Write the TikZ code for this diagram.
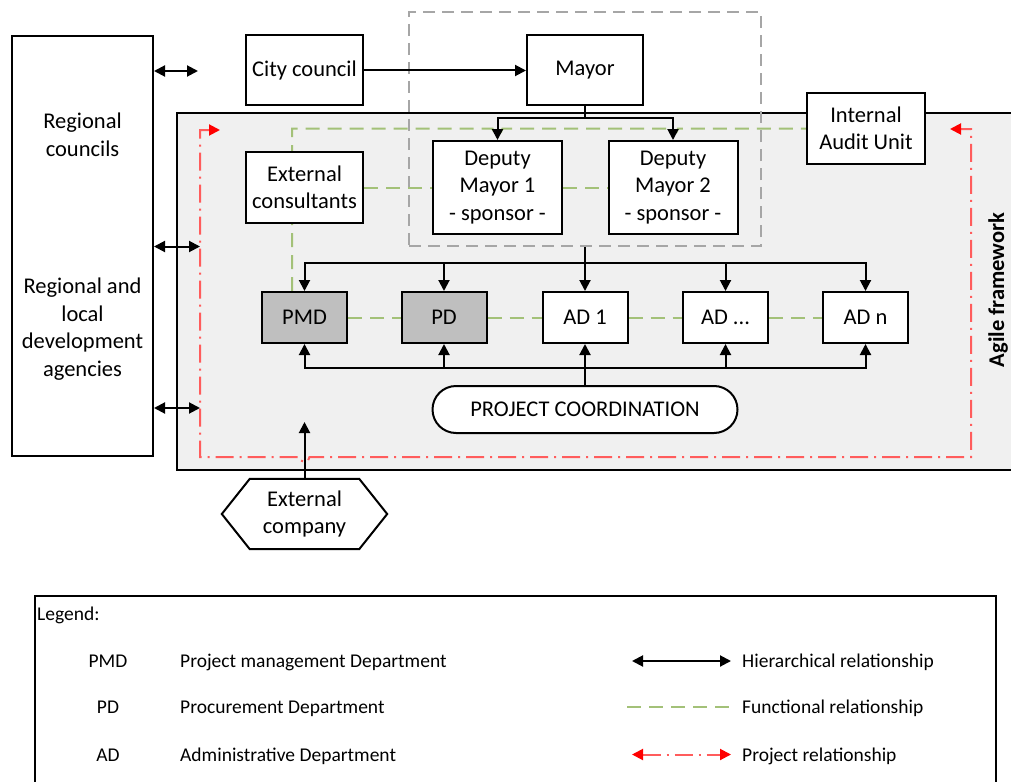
\documentclass[tikz,border=0pt]{standalone}
\usepackage{fontspec}
\setmainfont{Carlito}
\usetikzlibrary{arrows.meta}
\definecolor{framegray}{HTML}{F0F0F0}
\definecolor{deptgray}{HTML}{BFBFBF}
\definecolor{funcgreen}{HTML}{A3C178}
\definecolor{grpgray}{HTML}{A6A6A6}
\definecolor{projred}{HTML}{FF5C5C}
\pgfdeclarelayer{bg}
\pgfsetlayers{bg,main}
\tikzset{
  mainfont/.style={font=\fontsize{22.5}{27.5}\selectfont},
  legfont/.style={font=\fontsize{19.5}{23}\selectfont},
  box/.style={draw, line width=2pt, fill=white},
  dept/.style={box, minimum width=85pt, minimum height=51pt},
  hier/.style={line width=2pt, -{Triangle[length=11pt,width=11pt]}},
  hiertwo/.style={line width=2pt, {Triangle[length=11pt,width=11pt]}-{Triangle[length=11pt,width=11pt]}},
  func/.style={line width=2pt, draw=funcgreen, dash pattern=on 14pt off 8pt},
  proj/.style={line width=2pt, draw=projred, dash pattern=on 18pt off 6pt on 2pt off 6pt,
     {Triangle[length=11pt,width=11pt,color=red]}-{Triangle[length=11pt,width=11pt,color=red]}},
}
\begin{document}
\begin{tikzpicture}[x=1pt,y=-1pt,
  every node/.style={mainfont, align=center, inner sep=0pt}]
\useasboundingbox (0,0) rectangle (1011,781);
\clip (0,0) rectangle (1011,781);

% ---------- nodes ----------
\node[box, minimum width=141pt, minimum height=420pt] (reg) at (82.5,246) {};
\node (regc) at (82.5,135) {Regional\\councils};
\node (regl) at (82.5,329) {Regional and\\local\\development\\agencies};

\node[box, minimum width=117pt, minimum height=70pt] (cc) at (304.5,70.5) {City council};
\node[box, minimum width=116pt, minimum height=70pt] (mayor) at (585,70.5) {Mayor};
\node[box, minimum width=129pt, minimum height=93pt] (dm1) at (497.5,187.5) {Deputy\\Mayor 1\\- sponsor -};
\node[box, minimum width=129pt, minimum height=93pt] (dm2) at (673,187.5) {Deputy\\Mayor 2\\- sponsor -};
\node[box, minimum width=117pt, minimum height=71pt] (ext) at (304.5,187.5) {External\\consultants};
\node[box, minimum width=118pt, minimum height=71pt] (audit) at (866,128.5) {Internal\\Audit Unit};

\node[dept, fill=deptgray] (pmd) at (304.5,317.5) {PMD};
\node[dept, fill=deptgray] (pd) at (444,317.5) {PD};
\node[dept] (ad1) at (585,317.5) {AD 1};
\node[dept] (adx) at (725.5,317.5) {AD ...};
\node[dept] (adn) at (865.5,317.5) {AD n};

\node[box, rounded corners=23.5pt, minimum width=305pt, minimum height=47pt] (pc) at (585,409.5) {PROJECT COORDINATION};

\node[minimum width=165pt, minimum height=70pt] (ec) at (304.5,514) {External\\company};
\draw[line width=2pt, line join=miter] ([xshift=28pt]ec.north west) -- ([xshift=-28pt]ec.north east) -- (ec.east)
  -- ([xshift=-28pt]ec.south east) -- ([xshift=28pt]ec.south west) -- (ec.west) -- cycle;

% ---------- background layer ----------
\begin{pgfonlayer}{bg}
\node[draw, line width=2pt, fill=framegray, anchor=north west, minimum width=850pt, minimum height=357pt] (frame) at (176,112) {};
\node[rotate=90, font=\fontsize{22.5}{27.5}\selectfont\bfseries] (agile) at (998,290) {Agile framework};

\node[draw=grpgray, dash pattern=on 12pt off 7pt, line width=2pt, minimum width=352pt, minimum height=234pt] (grp) at (585,129) {};

% project relationship loop
\coordinate (pA) at (220,130);
\coordinate (pB) at (200,130);
\coordinate (pC) at (200,457);
\coordinate (pD) at (971,457);
\coordinate (pE) at (971,129);
\coordinate (pF) at (950,129);
\draw[proj] (pA) -- (pB) -- (pC) -- (299.5,457) arc[start angle=180, end angle=0, radius=5] -- (pD) -- (pE) -- (pF);

% functional relationships
\draw[func] ([xshift=-12.5pt]pmd.north) |- (492.5,128.5) arc[start angle=180, end angle=0, radius=5]
   -- (668,128.5) arc[start angle=180, end angle=0, radius=5] -- (audit.west);
\draw[func] (ext) -- (dm1);
\draw[func] (dm1) -- (dm2);
\draw[func] (pmd) -- (pd);
\draw[func] (pd) -- (ad1);
\draw[func] (ad1) -- (adx);
\draw[func] (adx) -- (adn);
\end{pgfonlayer}

% ---------- hierarchical relationships ----------
\draw[hier] (cc) -- (mayor);
\draw[hier] (mayor.south) -- ++(0,11.5) -| (dm1.north);
\draw[hier] (mayor.south) -- ++(0,11.5) -| (dm2.north);

\coordinate (hbar) at (585,263);
\draw[hier] (grp.south) -- (ad1.north);
\draw[hier] (hbar) -| (pmd.north);
\draw[hier] (hbar) -| (pd.north);
\draw[hier] (hbar) -| (adx.north);
\draw[hier] (hbar) -| (adn.north);

\coordinate (lbar) at (585,368);
\draw[hier] (pc.north) -- (ad1.south);
\draw[hier] (lbar) -| (pmd.south);
\draw[hier] (lbar) -| (pd.south);
\draw[hier] (lbar) -| (adx.south);
\draw[hier] (lbar) -| (adn.south);

\coordinate (ectip) at (304.5,422);
\draw[hier] (ec.north) -- (ectip);

\coordinate (r1) at (198,71);
\coordinate (r2) at (200,246.5);
\coordinate (r3) at (200,408);
\draw[hiertwo] (reg.east |- r1) -- (r1);
\draw[hiertwo] (reg.east |- r2) -- (r2);
\draw[hiertwo] (reg.east |- r3) -- (r3);

% ---------- legend ----------
\node[draw, line width=2pt, anchor=north west, minimum width=961pt, minimum height=220pt] (leg) at (34,595) {};
\node[legfont, anchor=base west] (legt) at (37,620) {Legend:};
\node[legfont, anchor=base] (k1) at (108,667) {PMD};
\node[legfont, anchor=base] (k2) at (108,713) {PD};
\node[legfont, anchor=base] (k3) at (108,761) {AD};
\node[legfont, anchor=base west] (d1) at (180,667) {Project management Department};
\node[legfont, anchor=base west] (d2) at (180,713) {Procurement Department};
\node[legfont, anchor=base west] (d3) at (180,761) {Administrative Department};

\coordinate (l1a) at (632,661);
\coordinate (l1b) at (731,661);
\coordinate (l2a) at (627,706.5);
\coordinate (l2b) at (733,706.5);
\coordinate (l3a) at (632,754.5);
\coordinate (l3b) at (731,754.5);
\draw[hiertwo] (l1a) -- (l1b);
\draw[func] (l2a) -- (l2b);
\draw[proj] (l3a) -- (l3b);
\node[legfont, anchor=base west] (t1) at (742,667) {Hierarchical relationship};
\node[legfont, anchor=base west] (t2) at (742,713) {Functional relationship};
\node[legfont, anchor=base west] (t3) at (742,761) {Project relationship};
\end{tikzpicture}
\end{document}
